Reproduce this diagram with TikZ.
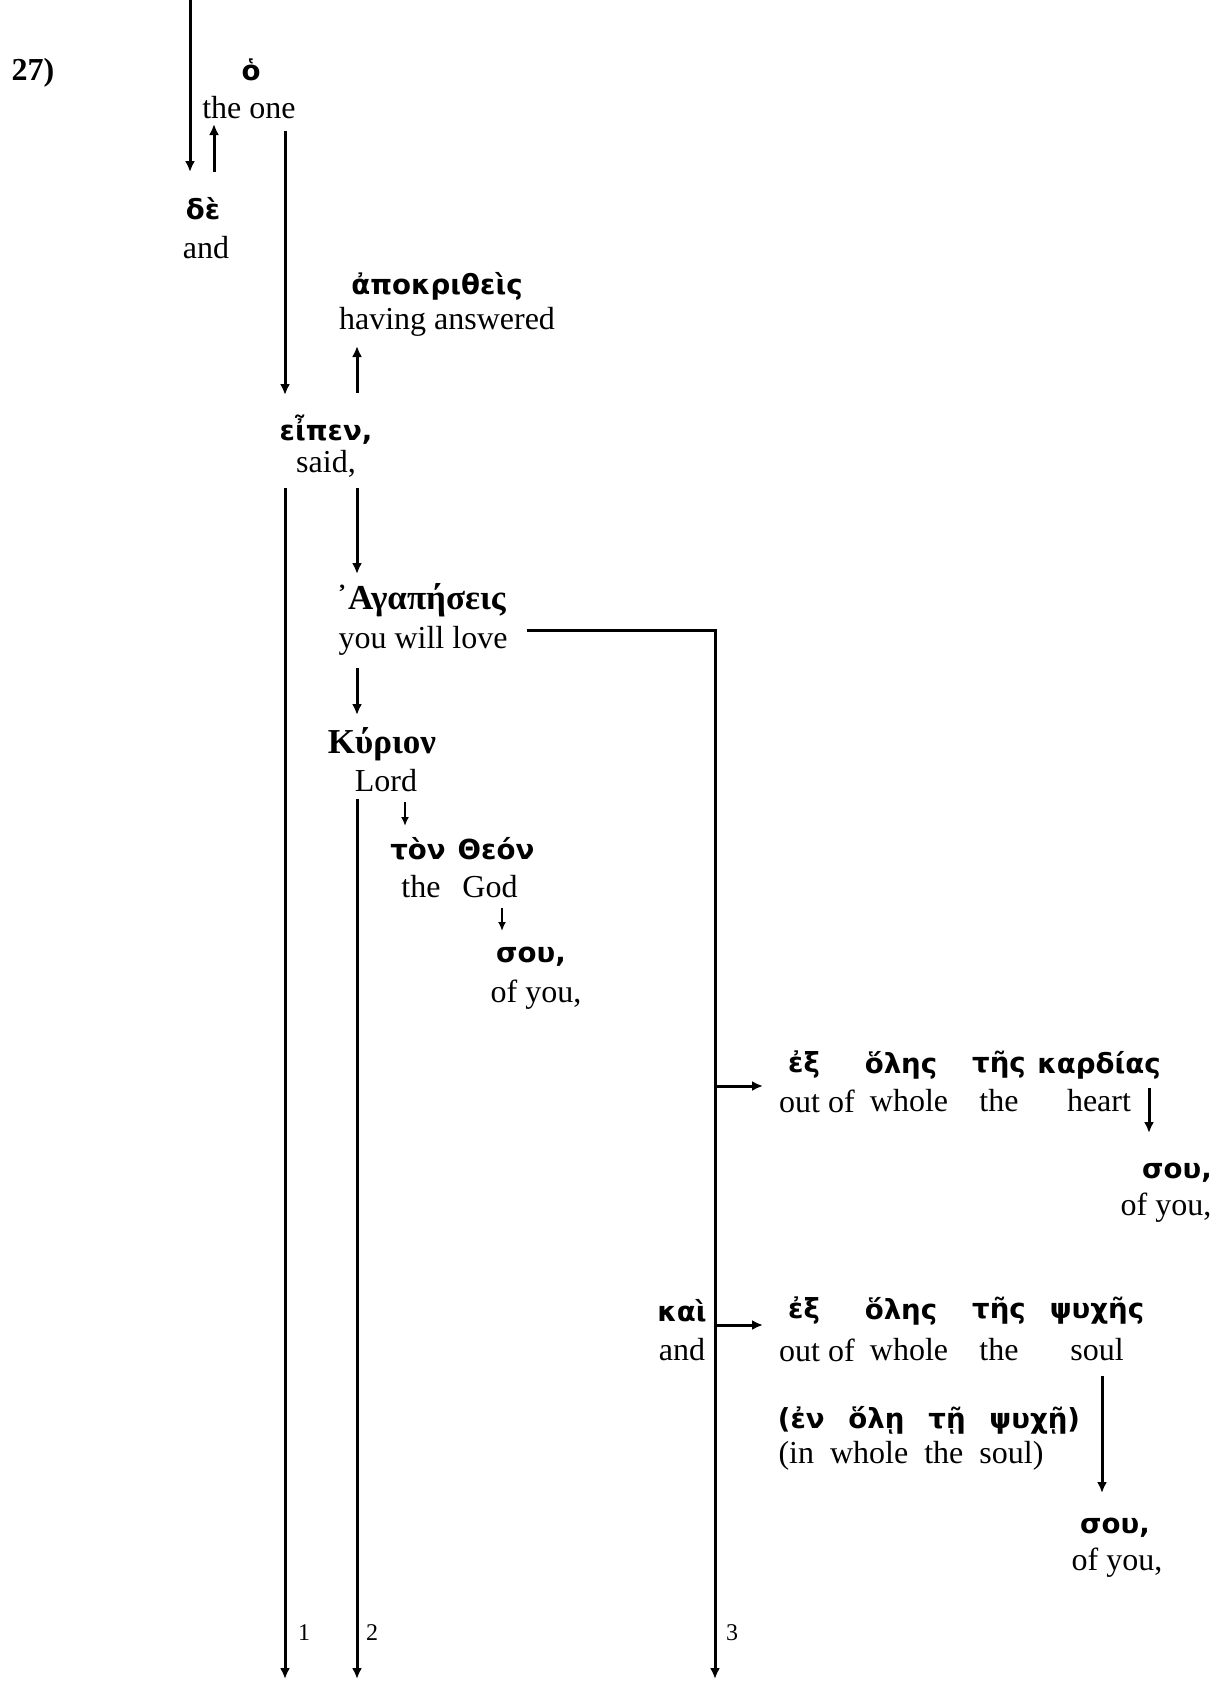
\documentclass[tikz,border=0pt]{standalone}
\usepackage{fontspec}
\setmainfont{Liberation Serif}
\newfontfamily\grk{DejaVu Sans}
\usetikzlibrary{arrows.meta}
\begin{document}
\begin{tikzpicture}[x=0.5pt,y=-0.5pt,
 en/.style={font=\fontsize{16}{18}\selectfont, inner sep=0},
 gr/.style={font=\grk\bfseries\fontsize{13.8}{16}\selectfont, inner sep=0},
 gs/.style={font=\bfseries\fontsize{17.5}{20}\selectfont, inner sep=0},
 lab/.style={font=\bfseries\fontsize{16}{18}\selectfont, inner sep=0},
 num/.style={font=\fontsize{12}{14}\selectfont, inner sep=0},
 ar/.style={line width=1.5pt,-{Latex[length=5.5pt,width=5pt]}},
 sar/.style={line width=1pt,-{Latex[length=4.5pt,width=4pt]}},
]
\useasboundingbox (0,0) rectangle (1219,1681);
% texts
\node[lab] (num) at (33,73) {27)};
\node[gr] (ho) at (251,70) {ὁ};
\node[en] (hoE) at (249,108) {the one};
\node[gr] (de) at (203,209) {δὲ};
\node[en] (deE) at (206,248) {and};
\node[gr] (apo) at (437,286) {ἀποκριθεὶς};
\node[en] (apoE) at (447,322) {having answered};
\node[gr] (eipen) at (326,430) {εἶπεν,};
\node[en] (eipenE) at (326,464) {said,};
\node[gs] (agap) at (421,600) {᾿Αγαπήσεις};
\node[en] (agapE) at (423,641) {you will love};
\node[gs] (kyr) at (382,744) {Κύριον};
\node[en] (kyrE) at (386,781) {Lord};
\node[gr] (ton) at (418,849) {τὸν};
\node[gr] (theon) at (496,849) {Θεόν};
\node[en] (tonE) at (421,887) {the};
\node[en] (theonE) at (490,887) {God};
\node[gr] (souA) at (531,957) {σου,};
\node[en] (souAE) at (536,995) {of you,};
% heart row
\node[gr] (ekA) at (804,1065) {ἐξ};
\node[gr] (holA) at (901,1065) {ὅλης};
\node[gr] (tesA) at (999,1065) {τῆς};
\node[gr] (kard) at (1099,1065) {καρδίας};
\node[en] (ekAE) at (817,1101) {out of};
\node[en] (holAE) at (909,1101) {whole};
\node[en] (tesAE) at (999,1101) {the};
\node[en] (kardE) at (1099,1101) {heart};
\node[gr] (souB) at (1177,1173) {σου,};
\node[en] (souBE) at (1166,1208) {of you,};
% soul row
\node[gr] (kai) at (682,1311) {καὶ};
\node[en] (kaiE) at (682,1350) {and};
\node[gr] (ekB) at (804,1311) {ἐξ};
\node[gr] (holB) at (901,1311) {ὅλης};
\node[gr] (tesB) at (999,1311) {τῆς};
\node[gr] (psy) at (1097,1311) {ψυχῆς};
\node[en] (ekBE) at (817,1350) {out of};
\node[en] (holBE) at (909,1350) {whole};
\node[en] (tesBE) at (999,1350) {the};
\node[en] (psyE) at (1097,1350) {soul};
\node[gr] (alt) at (929,1420) {(ἐν\ \ \,ὅλῃ\ \ \,τῇ\ \ \,ψυχῇ)};
\node[en] (altE) at (911,1456) {(in\ \ whole\ \ the\ \ soul)};
\node[gr] (souC) at (1115,1528) {σου,};
\node[en] (souCE) at (1117,1563) {of you,};
\node[num] (n1) at (304,1633) {1};
\node[num] (n2) at (372,1633) {2};
\node[num] (n3) at (732,1633) {3};
% connector end points
\coordinate (t0) at (190,0);    \coordinate (t1) at (190,172);
\coordinate (u0) at (214,172);  \coordinate (u1) at (214,124);
\coordinate (a0) at (285,131);  \coordinate (a1) at (285,395);
\coordinate (b0) at (357,393);  \coordinate (b1) at (357,346);
\coordinate (c0) at (285,488);  \coordinate (c1) at (285,1679);
\coordinate (d0) at (357,488);  \coordinate (d1) at (357,574);
\coordinate (e0) at (527,630);  \coordinate (e1) at (715,630); \coordinate (e2) at (715,1679);
\coordinate (f0) at (357,668);  \coordinate (f1) at (357,715);
\coordinate (g0) at (357,799);  \coordinate (g1) at (357,1679);
\coordinate (h0) at (405,802);  \coordinate (h1) at (405,826);
\coordinate (i0) at (502,908);  \coordinate (i1) at (502,931);
\coordinate (j0) at (715,1086); \coordinate (j1) at (763,1086);
\coordinate (k0) at (1149,1088);\coordinate (k1) at (1149,1133);
\coordinate (l0) at (715,1325); \coordinate (l1) at (763,1325);
\coordinate (m0) at (1102,1376);\coordinate (m1) at (1102,1493);
% connectors
\draw[ar] (t0) -- (t1);
\draw[ar] (u0) -- (u1);
\draw[ar] (a0) -- (a1);
\draw[ar] (b0) -- (b1);
\draw[ar] (c0) -- (c1);
\draw[ar] (d0) -- (d1);
\draw[ar] (e0) -- (e1) -- (e2);
\draw[ar] (f0) -- (f1);
\draw[ar] (g0) -- (g1);
\draw[sar] (h0) -- (h1);
\draw[sar] (i0) -- (i1);
\draw[ar] (j0) -- (j1);
\draw[ar] (k0) -- (k1);
\draw[ar] (l0) -- (l1);
\draw[ar] (m0) -- (m1);
\end{tikzpicture}
\end{document}
